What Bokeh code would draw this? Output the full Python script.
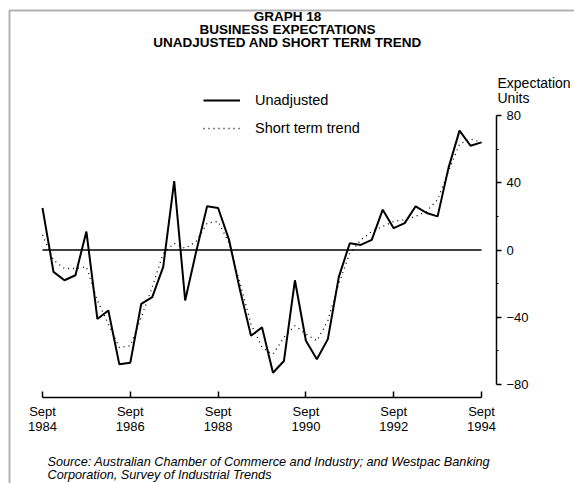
from bokeh.plotting import figure
from bokeh.models import (FixedTicker, LinearAxis, Label, Legend, LegendItem,
                          BoxAnnotation, Range1d)
from bokeh.embed import file_html
from bokeh.resources import INLINE

# ---- data (quarterly, Sept 1984 .. Sept 1994) ----
start_year = 1984.75
unadjusted = [25, -13, -18, -15, 11, -41, -36, -68, -67, -32,
              -28, -10, 41, -30, -1, 26, 25, 6, -24, -51,
              -46, -73, -66, -18, -54, -65, -53, -16, 4, 3,
              6, 24, 13, 16, 26, 22, 20, 49, 71, 62, 64]
trend = [9, -6, -11, -11, -10, -30, -44, -58, -57, -40,
         -22, -2, 4, 1, 5, 16, 17, 4, -20, -44,
         -58, -62, -52, -45, -50, -54, -42, -20, -2, 6,
         11, 14, 17, 18, 20, 23, 30, 47, 63, 66, 64]
x_tick_years = [1984, 1986, 1988, 1990, 1992, 1994]
y_ticks = [-80, -40, 0, 40, 80]
y_minor = [-60, -20, 20, 60]
series_names = ["Unadjusted", "Short term trend"]

xs = [start_year + 0.25 * i for i in range(len(unadjusted))]
x_ticks = [y + 0.75 for y in x_tick_years]

FONT = "Liberation Sans"
W, H = 574, 483

# pixel geometry of the plotting area (canvas px)
X_LEFT_PX, PX_PER_YEAR = 42, 43.9
Y_ZERO_PX, PX_PER_UNIT = 249.5, 1.68125
x0 = xs[0] - X_LEFT_PX / PX_PER_YEAR
x1 = xs[0] + (W - X_LEFT_PX) / PX_PER_YEAR
y1 = Y_ZERO_PX / PX_PER_UNIT
y0 = -(H - Y_ZERO_PX) / PX_PER_UNIT

def data_x(px):
    return xs[0] + (px - X_LEFT_PX) / PX_PER_YEAR

def data_y(py):
    return (Y_ZERO_PX - py) / PX_PER_UNIT

p = figure(width=W, height=H, output_backend="svg", toolbar_location=None,
           x_range=Range1d(x0, x1), y_range=Range1d(y0, y1),
           min_border=0, x_axis_location=None, y_axis_location=None)
p.outline_line_color = None
p.grid.visible = False
p.background_fill_color = "white"
p.border_fill_color = "white"

# x axis
xa = LinearAxis(ticker=FixedTicker(ticks=x_ticks, minor_ticks=[]),
                bounds=(xs[0], xs[-1]), fixed_location=data_y(397))
xa.major_label_overrides = {t: f"Sept\n{y}" for t, y in zip(x_ticks, x_tick_years)}
xa.major_tick_in = 6
xa.major_tick_out = 0
xa.minor_tick_in = 0
xa.minor_tick_out = 0
xa.axis_line_width = 1.5
xa.major_tick_line_width = 1.5
xa.major_label_standoff = 6
xa.major_label_text_font = FONT
xa.major_label_text_font_size = "13px"
xa.major_label_text_line_height = 1.05
xa.major_label_text_color = "black"
p.add_layout(xa, "below")

# y axis on the right
ya = LinearAxis(ticker=FixedTicker(ticks=y_ticks, minor_ticks=y_minor),
                bounds=(y_ticks[0], y_ticks[-1]), fixed_location=data_x(496))
ya.major_tick_in = 0
ya.major_tick_out = 5
ya.minor_tick_in = 0
ya.minor_tick_out = 2
ya.axis_line_width = 1.5
ya.major_tick_line_width = 1.5
ya.major_label_standoff = 5
ya.major_label_text_font = FONT
ya.major_label_text_font_size = "13px"
ya.major_label_text_color = "black"
p.add_layout(ya, "right")

# zero line
p.line([xs[0], xs[-1]], [0, 0], line_color="black", line_width=1.3)

r1 = p.line(xs, unadjusted, line_color="black", line_width=2)
r2 = p.line(xs, trend, line_color="black", line_width=1.3, line_dash="1 4")

def sy(py):
    return H - py

legend = Legend(items=[LegendItem(label=series_names[0], renderers=[r1]),
                       LegendItem(label=series_names[1], renderers=[r2])],
                location=(203, sy(138)),
                glyph_width=37, glyph_height=20, label_height=20,
                label_standoff=15, spacing=8, padding=0, margin=0,
                border_line_color=None, background_fill_alpha=0,
                label_text_font=FONT, label_text_font_size="14.5px",
                label_text_color="black")
p.add_layout(legend, "center")

titles = ["GRAPH 18", "BUSINESS EXPECTATIONS", "UNADJUSTED AND SHORT TERM TREND"]
for i, t in enumerate(titles):
    p.add_layout(Label(x=287, y=sy(15.5 + 13 * i), x_units="screen", y_units="screen",
                       text=t, text_align="center", text_baseline="middle",
                       text_font=FONT, text_font_style="bold", text_font_size="13.5px",
                       text_color="black"))

for i, t in enumerate(["Expectation", "Units"]):
    p.add_layout(Label(x=497, y=sy(82 + 15 * i), x_units="screen", y_units="screen",
                       text=t, text_align="left", text_baseline="middle",
                       text_font=FONT, text_font_size="14px", text_color="black"))

src = ["Source: Australian Chamber of Commerce and Industry; and Westpac Banking",
       "Corporation, Survey of Industrial Trends"]
for i, t in enumerate(src):
    p.add_layout(Label(x=47, y=sy(461 + 13 * i), x_units="screen", y_units="screen",
                       text=t, text_align="left", text_baseline="middle",
                       text_font=FONT, text_font_style="italic", text_font_size="12.7px",
                       text_color="black"))

# page frame (top and left rules)
p.add_layout(BoxAnnotation(left=9, right=900, top=sy(10), bottom=-500,
                           left_units="screen", right_units="screen",
                           top_units="screen", bottom_units="screen",
                           fill_alpha=0, line_color="black", line_width=2,
                           editable=False))

open("out.html", "w").write(file_html(p, INLINE))
